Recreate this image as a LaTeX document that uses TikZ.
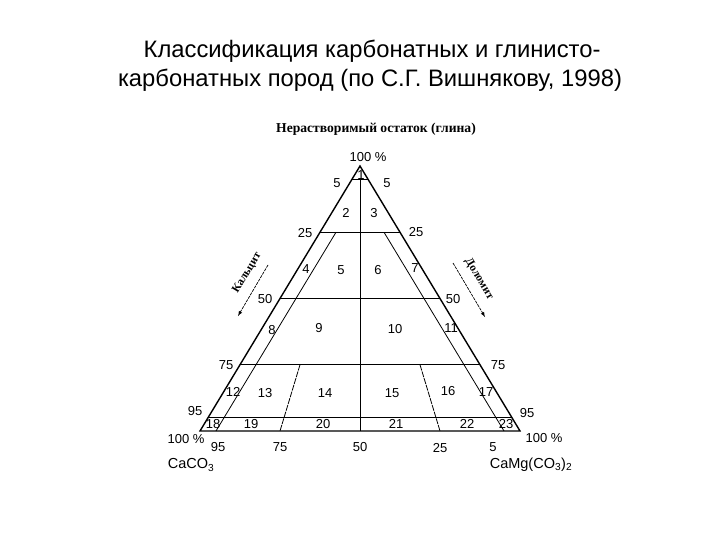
\documentclass[tikz,border=0pt]{standalone}
\usepackage{fontspec}
\setmainfont{Liberation Sans}
\newfontfamily\serifru{Liberation Serif}
\tikzset{
	num/.style={inner sep=0pt, font=\fontsize{13}{15}\selectfont},
	side/.style={line width=1.4pt},
	part/.style={line width=0.8pt},
	ratio/.style={line width=0.8pt, dashed, dash pattern=on 6pt off 1pt},
	mineral/.style={inner sep=0pt, font=\serifru\bfseries\fontsize{11.5}{13}\selectfont},
	trend/.style={-latex, line width=0.7pt, dash pattern=on 3pt off 1pt}
}
\begin{document}
\begin{tikzpicture}[x=1pt,y=-1pt]
	\useasboundingbox (0,0) rectangle (720,540);
	% title
	\node (T1) at (372, 51)	[inner sep=0pt, font=\fontsize{23.8}{28}\selectfont]	{Классификация карбонатных и глинисто-};
	\node (T2) at (370, 80)	[inner sep=0pt, font=\fontsize{23.8}{28}\selectfont]	{карбонатных пород (по С.Г. Вишнякову, 1998)};
	\node (Clay) at (376, 129)	[inner sep=0pt, font=\serifru\bfseries\fontsize{13.6}{15}\selectfont]	{Нерастворимый остаток (глина)};
	% vertices
	\coordinate (A) at (360, 166);
	\coordinate (B) at (200, 431);
	\coordinate (C) at (520, 431);
	% levels of clay 95, 75, 50, 25, 5
	\coordinate (L95) at (352, 179.25);	\coordinate (R95) at (368, 179.25);
	\coordinate (L75) at (320, 232.25);	\coordinate (R75) at (400, 232.25);
	\coordinate (L50) at (280, 298.5);	\coordinate (R50) at (440, 298.5);
	\coordinate (L25) at (240, 364.75);	\coordinate (R25) at (480, 364.75);
	\coordinate (L5)  at (208, 417.75);	\coordinate (R5)  at (512, 417.75);
	% inner boundaries
	\coordinate (M95) at (360, 179.25);	\coordinate (M0) at (360, 431);
	\coordinate (Ca5t) at (336, 232.25);	\coordinate (Ca5b) at (216, 431);
	\coordinate (Do5t) at (384, 232.25);	\coordinate (Do5b) at (504, 431);
	\coordinate (Ca25t) at (300, 364.75);	\coordinate (Ca25b) at (280, 431);
	\coordinate (Do25t) at (420, 364.75);	\coordinate (Do25b) at (440, 431);

	\draw[part] (L95) -- (R95);
	\draw[part] (L75) -- (R75);
	\draw[part] (L50) -- (R50);
	\draw[part] (L25) -- (R25);
	\draw[part] (L5) -- (R5);
	\draw[part] (M95) -- (M0);
	\draw[part] (Ca5t) -- (Ca5b);
	\draw[part] (Do5t) -- (Do5b);
	\draw[ratio] (Ca25t) -- (Ca25b);
	\draw[ratio] (Do25t) -- (Do25b);
	\draw[side] (A) -- (B) -- (C) -- cycle;

	% scale marks
	\node (top)  at (368, 157)	[num]	{100 \%};
	\node (l5)   at (337, 183)	[num]	{5};
	\node (l25)  at (305, 233)	[num]	{25};
	\node (l50)  at (265, 299)	[num]	{50};
	\node (l75)  at (226, 365)	[num]	{75};
	\node (l95)  at (195, 411)	[num]	{95};
	\node (l100) at (186, 439)	[num]	{100 \%};
	\node (r5)   at (387, 183)	[num]	{5};
	\node (r25)  at (416, 232)	[num]	{25};
	\node (r50)  at (453, 299)	[num]	{50};
	\node (r75)  at (498, 365)	[num]	{75};
	\node (r95)  at (527, 413)	[num]	{95};
	\node (r100) at (544, 438)	[num]	{100 \%};
	\node (b95)  at (218, 447)	[num]	{95};
	\node (b75)  at (280, 447)	[num]	{75};
	\node (b50)  at (360, 447)	[num]	{50};
	\node (b25)  at (440, 448)	[num]	{25};
	\node (b5)   at (493, 447)	[num]	{5};
	\node (CaCO) at (191, 465)	[num, font=\fontsize{14.5}{16}\selectfont]	{CaCO\textsubscript{3}};
	\node (CaMg) at (531, 465)	[num, font=\fontsize{14.5}{16}\selectfont]	{CaMg(CO\textsubscript{3})\textsubscript{2}};

	% fields
	\node (n1)  at (361, 175)	[num]	{1};
	\node (n2)  at (346, 213)	[num]	{2};
	\node (n3)  at (374, 213)	[num]	{3};
	\node (n4)  at (306, 269)	[num]	{4};
	\node (n5)  at (341, 270)	[num]	{5};
	\node (n6)  at (378, 270)	[num]	{6};
	\node (n7)  at (415, 268)	[num]	{7};
	\node (n8)  at (272, 330)	[num]	{8};
	\node (n9)  at (319, 328)	[num]	{9};
	\node (n10) at (395, 329)	[num]	{10};
	\node (n11) at (451, 328)	[num]	{11};
	\node (n12) at (233, 392)	[num]	{12};
	\node (n13) at (265, 393)	[num]	{13};
	\node (n14) at (325, 393)	[num]	{14};
	\node (n15) at (392, 393)	[num]	{15};
	\node (n16) at (448, 391)	[num]	{16};
	\node (n17) at (486, 392)	[num]	{17};
	\node (n18) at (213, 424)	[num]	{18};
	\node (n19) at (251, 424)	[num]	{19};
	\node (n20) at (323, 424)	[num]	{20};
	\node (n21) at (396, 424)	[num]	{21};
	\node (n22) at (467, 424)	[num]	{22};
	\node (n23) at (506, 424)	[num]	{23};

	% directions
	\node (Calc) at (247, 273)	[mineral, rotate=59]	{Кальцит};
	\node (Dolo) at (479, 279)	[mineral, rotate=-59]	{Доломит};
	\coordinate (ct) at (268, 265);	\coordinate (cb) at (238, 316);
	\coordinate (dt) at (453, 263);	\coordinate (db) at (485, 317);
	\draw[trend] (ct) -- (cb);
	\draw[trend] (dt) -- (db);
\end{tikzpicture}
\end{document}
